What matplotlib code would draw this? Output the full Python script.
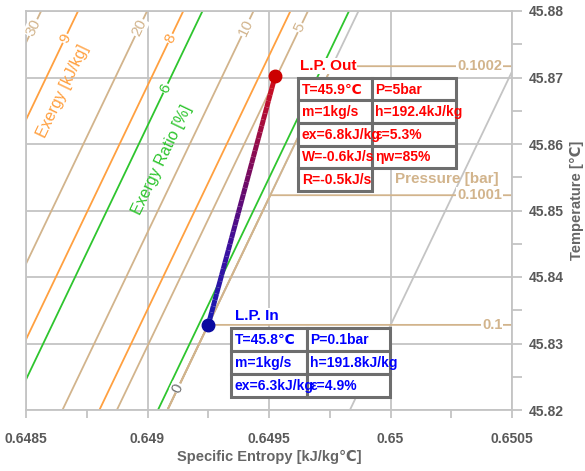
import numpy as np
import matplotlib.pyplot as plt
from matplotlib.patches import Rectangle
from matplotlib.collections import LineCollection
from matplotlib.colors import to_rgb
from matplotlib.transforms import IdentityTransform

plt.rcParams['font.family'] = ['Liberation Sans', 'DejaVu Sans']

# axis ranges
s_min, s_max = 0.6485, 0.6505
T_min, T_max = 45.82, 45.88
slope = 76.3  # dT/ds of the chart lines

# liquid isobars [bar], entropy where they cross T_min
p_labels = ['30', '20', '10', '5']
p_s0 = [0.647776, 0.648212, 0.648650, 0.648874]
sat_s0 = 0.649082          # saturated liquid line (quality 0)
q_s0 = 0.649833            # small quality line
# two-phase isobars
p2_labels = ['0.1', '0.1001', '0.1002']
p2_T = [45.8328, 45.8523, 45.8717]
# exergy lines [kJ/kg]
ex_labels = ['9', '8', None]
ex_s0 = [0.647928, 0.648361, 0.648802]
# exergy ratio lines [%]
er_labels = ['6', None]
er_s0 = [0.648440, 0.649043]

# process L.P. In -> L.P. Out
s_proc = [0.649250, 0.649525]
T_proc = [45.8328, 45.8702]
in_rows = [["T=45.8℃", "P=0.1bar"],
           ["m=1kg/s", "h=191.8kJ/kg"],
           ["ex=6.3kJ/kg", "ε=4.9%"]]
out_rows = [["T=45.9℃", "P=5bar"],
            ["m=1kg/s", "h=192.4kJ/kg"],
            ["ex=6.8kJ/kg", "ε=5.3%"],
            ["W=-0.6kJ/s", "ηw=85%"],
            ["R=-0.5kJ/s", None]]

TAN = '#d2b48c'
ORANGE = '#ffa040'
GREEN = '#2ec52e'
GRAY = '#c4c4c4'
TXT = '#595959'

fig = plt.figure(figsize=(5.85, 4.71), dpi=100)
ax = fig.add_axes([26/585, 61/471, 486/585, 399/471])
ax.set_xlim(s_min, s_max)
ax.set_ylim(T_min, T_max)

Tl = np.array([T_min, T_max])


def s_at(s0, T):
    return s0 + (np.asarray(T) - T_min) / slope


p0 = ax.transData.transform((s_min, T_min))
p1 = ax.transData.transform((s_min + 0.06/slope, T_max))
ang = np.degrees(np.arctan2(p1[1]-p0[1], p1[0]-p0[0]))


def line_label(s0, T, txt, color, size=11):
    ax.text(s_at(s0, T), T, txt, color=color, fontsize=size, rotation=ang,
            ha='center', va='center', rotation_mode='anchor', zorder=5,
            bbox=dict(fc='white', ec='none', pad=0.6))


# quality lines
ax.plot(s_at(sat_s0, Tl), Tl, color=GRAY, lw=1.3, zorder=2)
ax.plot(s_at(q_s0, Tl), Tl, color=GRAY, lw=1.3, zorder=2)

# liquid isobars
for s0, lab in zip(p_s0, p_labels):
    ax.plot(s_at(s0, Tl), Tl, color=TAN, lw=1.3, zorder=2)
    line_label(s0, 45.8775, lab, TAN)

# two-phase isobars (follow liquid line, then horizontal)
for T, lab in zip(p2_T, p2_labels):
    ss = [s_at(sat_s0, T_min), s_at(sat_s0, T), s_max]
    ax.plot(ss, [T_min, T, T], color=TAN, lw=1.3, zorder=2)
    ax.text(s_max - 0.000040, T, lab, color=TAN,
            fontsize=10.5, fontweight='bold', ha='right', va='center', zorder=5,
            bbox=dict(fc='white', ec='none', pad=0.8))
ax.text(0.650230, 45.8547, 'Pressure [bar]', color=TAN, fontsize=11,
        fontweight='bold', ha='center', va='center', zorder=5)
line_label(sat_s0, 45.8233, '0', '#707070', 11)

# exergy lines
for s0, lab in zip(ex_s0, ex_labels):
    ax.plot(s_at(s0, Tl), Tl, color=ORANGE, lw=1.3, zorder=2)
    if lab:
        line_label(s0, 45.8759, lab, ORANGE)
ax.text(0.648653, 45.8679, 'Exergy [kJ/kg]', color=ORANGE, fontsize=11.5,
        rotation=ang, ha='center', va='center', rotation_mode='anchor', zorder=5)

# exergy ratio lines
for s0, lab in zip(er_s0, er_labels):
    ax.plot(s_at(s0, Tl), Tl, color=GREEN, lw=1.3, zorder=2)
    if lab:
        line_label(s0, 45.8684, lab, GREEN)
ax.text(0.649060, 45.8576, 'Exergy Ratio [%]', color=GREEN, fontsize=11.5,
        rotation=ang, ha='center', va='center', rotation_mode='anchor', zorder=5)

# process line with colour gradient
n = 40
ps = np.linspace(s_proc[0], s_proc[1], n + 1)
pT = np.linspace(T_proc[0], T_proc[1], n + 1)
segs = [[(ps[i], pT[i]), (ps[i+1], pT[i+1])] for i in range(n)]
stops = [0.0, 0.3, 0.55, 1.0]
stop_cols = [to_rgb(c) for c in ['#1a1ab0', '#3a10a0', '#6a0a6a', '#d0101e']]
cols = [tuple(np.interp(f, stops, [c[k] for c in stop_cols]) for k in range(3))
        for f in np.linspace(0, 1, n)]
ax.add_collection(LineCollection(segs, colors=cols, linewidths=3.6, zorder=6))
ax.plot(s_proc[0], T_proc[0], 'o', color='#0a0aa0', ms=9, zorder=7)
ax.plot(s_proc[1], T_proc[1], 'o', color='#cc0000', ms=9, zorder=7)

# axes styling
xt = [0.6485, 0.649, 0.6495, 0.65, 0.6505]
yt = [45.82, 45.83, 45.84, 45.85, 45.86, 45.87, 45.88]
ax.set_xticks(xt)
ax.set_xticklabels(['0.6485', '0.649', '0.6495', '0.65', '0.6505'],
                   fontweight='bold', fontsize=10, color=TXT)
ax.set_xticks(np.arange(0.64875, 0.6505, 0.0005), minor=True)
ax.yaxis.tick_right()
ax.set_yticks(yt)
ax.set_yticklabels(['45.82', '45.83', '45.84', '45.85', '45.86', '45.87', '45.88'],
                   fontweight='bold', fontsize=10, color=TXT)
ax.set_yticks(np.arange(45.825, 45.88, 0.01), minor=True)
ax.tick_params(axis='x', which='both', length=6, width=1.3, color=GRAY, pad=10)
ax.tick_params(axis='y', which='both', length=7, width=1.3, color=GRAY, pad=5)
ax.grid(True, which='major', color=GRAY, lw=1.3, zorder=0)
ax.set_axisbelow(True)
for sp in ax.spines.values():
    sp.set_color(GRAY)
    sp.set_linewidth(1.3)
ax.text(0.5, -0.1175, 'Specific Entropy [kJ/kg℃]', transform=ax.transAxes,
        ha='center', va='center', fontsize=10.5, fontweight='bold', color='#666666')
ax.text(1.133, 0.526, 'Temperature [℃]', transform=ax.transAxes, rotation=90,
        ha='center', va='center', fontsize=10.5, fontweight='bold', color='#666666')


# state tables
def draw_table(s, T, title, rows, color, tdx, tdy, dx, dy, widths, h):
    axp, ayp = ax.transData.transform((s, T))
    fig.text(axp + tdx, ayp - tdy, title, transform=IdentityTransform(),
             color=color, fontsize=11, fontweight='bold', ha='left', va='center',
             bbox=dict(fc='white', ec='none', pad=0.5), zorder=8)
    left, top = axp + dx, ayp - dy
    for i, row in enumerate(rows):
        for j, txt in enumerate(row):
            if txt is None:
                continue
            x0 = left + sum(widths[:j])
            y0 = top - (i + 1) * h
            fig.add_artist(Rectangle((x0, y0), widths[j], h, transform=IdentityTransform(),
                                     fc='white', ec='#6e6e6e', lw=2.2, zorder=8))
    for i, row in enumerate(rows):
        for j, txt in enumerate(row):
            if txt is None:
                continue
            x0 = left + sum(widths[:j])
            y0 = top - (i + 1) * h
            fig.text(x0 + 3.5, y0 + h / 2 - 0.5, txt, transform=IdentityTransform(),
                     color=color, fontsize=10, fontweight='bold', ha='left',
                     va='center', zorder=9)


draw_table(s_proc[1], T_proc[1], 'L.P. Out', out_rows, '#ff0000',
           25, -10, 23.3, 1.7, [73.4, 84], 22.6)
draw_table(s_proc[0], T_proc[0], 'L.P. In', in_rows, '#0000ff',
           27, -9, 23, 2.7, [75.7, 82.6], 23)

fig.savefig('out.png', dpi=100)
